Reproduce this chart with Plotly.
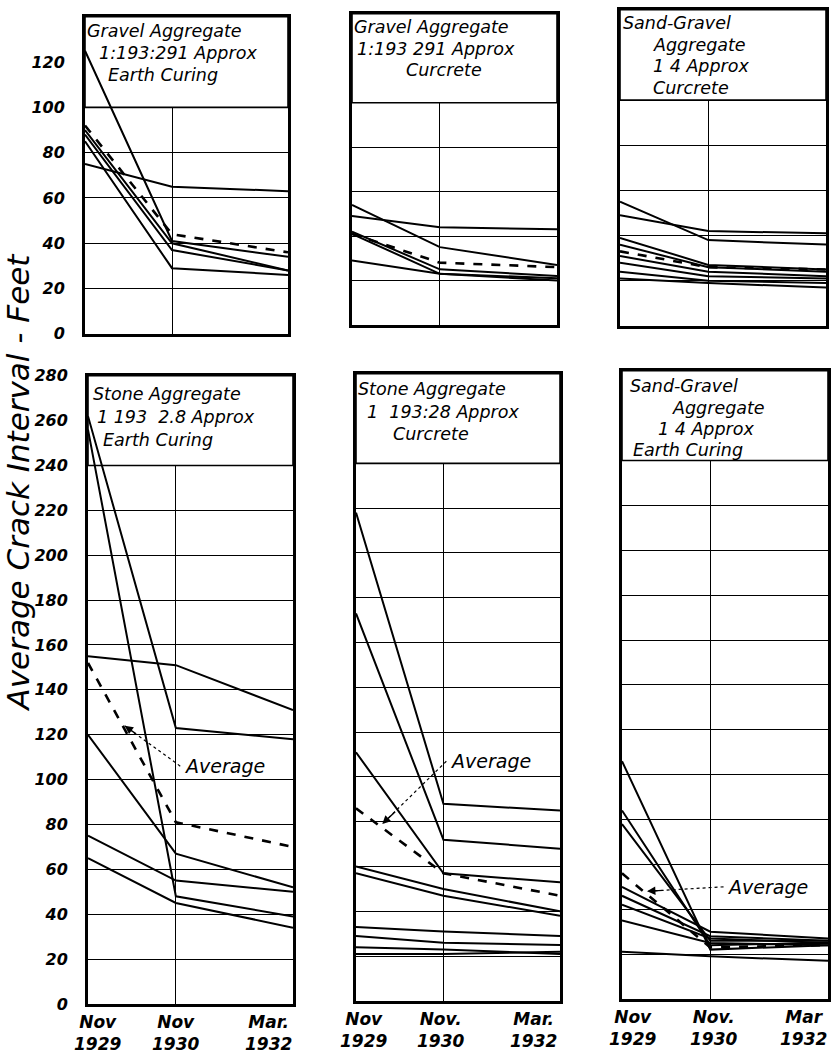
import plotly.graph_objects as go

# ---------------- data ----------------
months = [0, 12, 28]  # Nov 1929, Nov 1930, Mar 1932 (months after Nov 1929)

gravel_earth_lines = [[125, 41, 34], [90, 40, 28], [85, 29, 26], [75, 65, 63], [88, 37, 28]]
gravel_earth_avg = [92, 44, 36]

gravel_curcrete_lines = [[54, 35, 27], [49, 44, 43], [42, 25, 22], [41, 23, 20], [29, 23, 21]]
gravel_curcrete_avg = [41, 28, 26]

sandgravel_curcrete_lines = [[55, 38, 36], [49, 42, 41], [39, 27, 25], [36, 26, 24],
                             [31, 24, 22], [28, 22, 21], [24, 20, 19], [21, 19, 17]]
sandgravel_curcrete_avg = [33, 26, 25]

stone_earth_lines = [[262, 123, 118], [256, 48, 39], [155, 151, 131], [120, 67, 52],
                     [75, 55, 50], [65, 45, 34]]
stone_earth_avg = [152, 81, 70]

stone_curcrete_lines = [[218, 88, 85], [173, 72, 68], [111, 57, 53], [60, 50, 40], [57, 47, 38],
                        [33, 31, 29], [29, 26, 25], [24, 23, 21], [21, 21, 22]]
stone_curcrete_avg = [86, 57, 47]

sandgravel_earth_lines = [[106, 22, 24], [84, 24, 25], [78, 26, 26], [50, 30, 27], [46, 28, 26],
                          [42, 27, 25], [35, 25, 24], [21, 19, 17]]
sandgravel_earth_avg = [56, 23, 24]

top_ticks = [0, 20, 40, 60, 80, 100, 120]
bottom_ticks = [0, 20, 40, 60, 80, 100, 120, 140, 160, 180, 200, 220, 240, 260, 280]

x_labels_p4 = ["Nov<br>1929", "Nov<br>1930", "Mar.<br>1932"]
x_labels_p5 = ["Nov<br>1929", "Nov.<br>1930", "Mar.<br>1932"]
x_labels_p6 = ["Nov<br>1929", "Nov.<br>1930", "Mar<br>1932"]

y_title = "Average Crack Interval - Feet"

# ---------------- layout config ----------------
W, H = 833, 1056
FONT = "DejaVu Sans"


def fy(py):
    # page pixel row -> figure pixel row (compensates the vertical placement seen on the page)
    return (py - 7.2) / 0.9848


panels = [
    dict(lines=gravel_earth_lines, avg=gravel_earth_avg, box=(85, 15, 288, 333), ymax=140, boxy=100,
         ticks=top_ticks, ylabels=True, xlabels=None,
         title=[("Gravel Aggregate", 0.1, 133.5), ("1:193:291 Approx", 1.8, 124), ("Earth Curing", 3.0, 114.5)]),
    dict(lines=gravel_curcrete_lines, avg=gravel_curcrete_avg, box=(352, 12, 557, 324), ymax=140, boxy=100,
         ticks=top_ticks, ylabels=False, xlabels=None,
         title=[("Gravel Aggregate", 0.2, 134), ("1:193 291 Approx", 0.5, 124), ("Curcrete", 7.3, 114.5)]),
    dict(lines=sandgravel_curcrete_lines, avg=sandgravel_curcrete_avg, box=(620, 8, 826, 325), ymax=140, boxy=100,
         ticks=top_ticks, ylabels=False, xlabels=None,
         title=[("Sand-Gravel", 0.3, 134), ("Aggregate", 4.3, 124.5), ("1 4 Approx", 4.3, 115), ("Curcrete", 4.3, 105.5)]),
    dict(lines=stone_earth_lines, avg=stone_earth_avg, box=(88, 375, 293, 1005), ymax=280, boxy=240,
         ticks=bottom_ticks, ylabels=True, xlabels=x_labels_p4, xshift=[9, 0, -25],
         title=[("Stone Aggregate", 0.5, 272), ("1 193  2.8 Approx", 1.1, 261.5), ("Earth Curing", 1.9, 251.5)],
         avg_note=dict(text=(12.8, 106), tip=(5.0, 124))),
    dict(lines=stone_curcrete_lines, avg=stone_curcrete_avg, box=(356, 373, 560, 1002), ymax=280, boxy=240,
         ticks=bottom_ticks, ylabels=False, xlabels=x_labels_p5, xshift=[7, -3, -27],
         title=[("Stone Aggregate", 0.2, 273), ("1  193:28 Approx", 1.4, 263), ("Curcrete", 5.0, 253)],
         avg_note=dict(text=(12.6, 107), tip=(3.6, 79))),
    dict(lines=sandgravel_earth_lines, avg=sandgravel_earth_avg, box=(622, 370, 828, 1000), ymax=280, boxy=240,
         ticks=bottom_ticks, ylabels=False, xlabels=x_labels_p6, xshift=[10, 3, -25],
         title=[("Sand-Gravel", 1.0, 273), ("Aggregate", 6.7, 263.5), ("1 4 Approx", 4.7, 254), ("Earth Curing", 1.3, 244.5)],
         avg_note=dict(text=(14.0, 50), tip=(3.4, 48))),
]

fig = go.Figure()
layout = dict(
    width=W, height=H, margin=dict(l=0, r=0, t=0, b=0, pad=0),
    paper_bgcolor="white", plot_bgcolor="white", showlegend=False,
)
shapes, annotations = [], []

tick_font = dict(family=FONT, size=17, color="black", style="italic", weight="bold")
text_font = dict(family=FONT, size=17.5, color="black", style="italic")

for i, p in enumerate(panels, start=1):
    sfx = "" if i == 1 else str(i)
    xr, yr = "x" + sfx, "y" + sfx
    x0, y0, x1, y1 = p["box"]
    layout["xaxis" + sfx] = dict(
        domain=[x0 / W, x1 / W], range=[months[0], months[-1]], anchor=yr,
        tickvals=months, showticklabels=False, ticks="",
        showgrid=True, gridcolor="black", gridwidth=1.4, zeroline=False,
        showline=True, mirror=True, linecolor="black", linewidth=3,
        fixedrange=True,
    )
    layout["yaxis" + sfx] = dict(
        domain=[1 - fy(y1) / H, 1 - fy(y0) / H], range=[0, p["ymax"]], anchor=xr,
        tickvals=p["ticks"], showticklabels=p["ylabels"], ticks="",
        ticklabelstandoff=14, tickfont=dict(tick_font, size=16),
        showgrid=True, gridcolor="black", gridwidth=1.4, zeroline=False,
        showline=True, mirror=True, linecolor="black", linewidth=3,
        fixedrange=True,
    )
    # title box covering the upper part of the grid
    shapes.append(dict(type="rect", xref=xr, yref=yr, x0=months[0], x1=months[-1],
                       y0=p["boxy"], y1=p["ymax"], fillcolor="white",
                       line=dict(color="black", width=1.6), layer="between"))
    for vals in p["lines"]:
        fig.add_trace(go.Scatter(x=months, y=vals, mode="lines", xaxis=xr, yaxis=yr,
                                 line=dict(color="black", width=2), hoverinfo="skip", showlegend=False))
    fig.add_trace(go.Scatter(x=months, y=p["avg"], mode="lines", xaxis=xr, yaxis=yr,
                             line=dict(color="black", width=2.6, dash="dash"),
                             hoverinfo="skip", showlegend=False))
    for txt, tx, ty in p["title"]:
        annotations.append(dict(text=txt, x=tx, y=ty, xref=xr, yref=yr, xanchor="left",
                                yanchor="middle", showarrow=False, font=text_font, borderpad=0))
    if p["xlabels"]:
        for xv, lab, sh in zip(months, p["xlabels"], p["xshift"]):
            annotations.append(dict(text=lab, x=xv, y=0, xref=xr, yref=yr, xanchor="center",
                                    yanchor="top", yshift=-6, xshift=sh, showarrow=False,
                                    font=tick_font, align="center"))
    if "avg_note" in p:
        (tx, ty), (ax_, ay_) = p["avg_note"]["text"], p["avg_note"]["tip"]
        annotations.append(dict(text="Average", x=tx, y=ty, xref=xr, yref=yr, xanchor="left",
                                yanchor="middle", showarrow=False, font=dict(text_font, size=19)))
        shapes.append(dict(type="line", xref=xr, yref=yr, x0=tx - 0.2, y0=ty, x1=ax_, y1=ay_,
                           line=dict(color="black", width=1.2, dash="dot"), layer="above"))
        annotations.append(dict(text="", x=ax_, y=ay_, xref=xr, yref=yr,
                                ax=ax_ + 0.22 * (tx - ax_), ay=ay_ + 0.22 * (ty - ay_),
                                axref=xr, ayref=yr, showarrow=True, arrowhead=2,
                                arrowsize=1.2, arrowwidth=1.4, arrowcolor="black"))

annotations.append(dict(text=y_title, x=18 / W, y=1 - fy(482) / H, xref="paper", yref="paper",
                        xanchor="center", yanchor="middle", textangle=-90, showarrow=False,
                        font=dict(family=FONT, size=31, color="black", style="italic")))

layout["shapes"] = shapes
layout["annotations"] = annotations
fig.update_layout(**layout)

page_fix = (
    "var s=document.createElement('style');"
    "s.textContent='html,body{margin:0!important;padding:0!important;overflow:hidden;"
    "width:833px;height:1056px;}';"
    "document.head.appendChild(s);"
)
fig.write_html("out.html", config={"displayModeBar": False}, post_script=page_fix)
